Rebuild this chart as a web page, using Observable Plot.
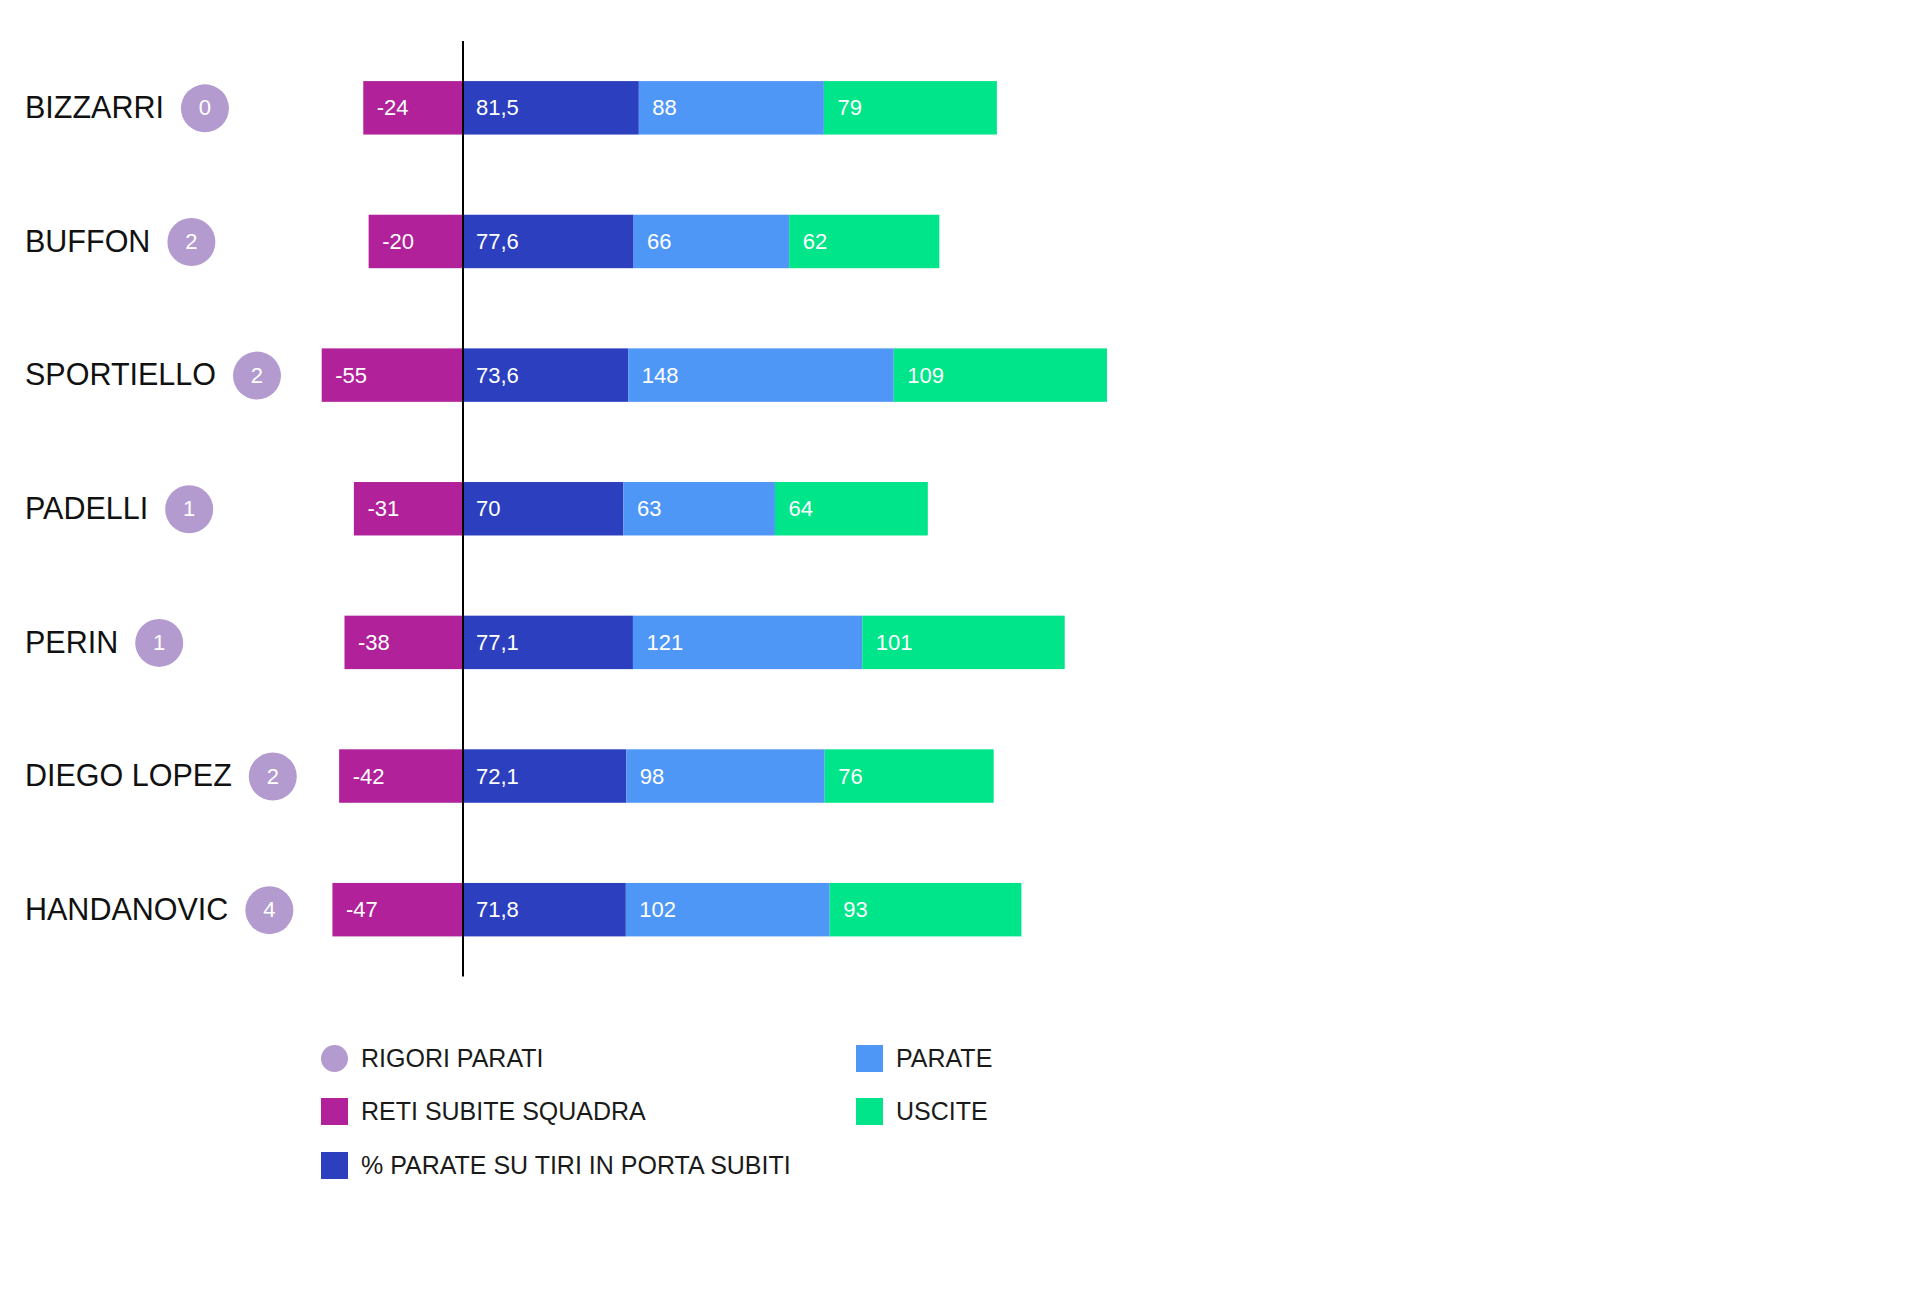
<!DOCTYPE html>
<html>
<head>
<meta charset="utf-8">
<script src="https://cdn.jsdelivr.net/npm/d3@7"></script>
<script src="https://cdn.jsdelivr.net/npm/@observablehq/plot@0.6"></script>
<style>
  html, body { margin: 0; padding: 0; background: #fff; }
  #wrap { position: relative; width: 1920px; height: 1310px; font-family: "Liberation Sans", Arial, sans-serif; }
  .lg { position: absolute; height: 30px; display: flex; align-items: center; font-size: 25px; color: #1a1a1a; white-space: nowrap; }
  .sw { display: inline-block; width: 27px; height: 27px; margin-right: 13px; }
  .sw.circle { border-radius: 50%; }
</style>
</head>
<body>
<div id="wrap"><div id="chart"></div></div>
<script>
// ---- data ----
const players = ["BIZZARRI", "BUFFON", "SPORTIELLO", "PADELLI", "PERIN", "DIEGO LOPEZ", "HANDANOVIC"];
const rigoriParati = [0, 2, 2, 1, 1, 2, 4];
const retiSubite = [-24, -20, -55, -31, -38, -42, -47];
const percParate = [81.5, 77.6, 73.6, 70, 77.1, 72.1, 71.8];
const parate = [88, 66, 148, 63, 121, 98, 102];
const uscite = [79, 62, 109, 64, 101, 76, 93];
const seriesNames = ["RETI SUBITE SQUADRA", "% PARATE SU TIRI IN PORTA SUBITI", "PARATE", "USCITE"];
const circleName = "RIGORI PARATI";
const seriesColors = ["#b0219a", "#2c3fbf", "#4f97f7", "#00e589"];
const circleColor = "#b49bcf";

// ---- layout constants ----
const PAD = 50; // fixed extra length of every segment (in value units), as in the original design
const W = 1920, H = 1000;
const FONT = "Liberation Sans, Arial, sans-serif";

// ---- build segments ----
const seriesValues = [retiSubite, percParate, parate, uscite];
const segments = [];
players.forEach((p, i) => {
  const r = retiSubite[i];
  segments.push({name: p, series: seriesNames[0], x1: -(Math.abs(r) + PAD), x2: 0, value: r});
  let acc = 0;
  for (let s = 1; s < 4; s++) {
    const v = seriesValues[s][i];
    const len = v + PAD;
    segments.push({name: p, series: seriesNames[s], x1: acc, x2: acc + len, value: v});
    acc += len;
  }
});
const fmt = v => String(v).replace(".", ",");

// measure names to place the circles right after them
const NAME_SIZE = 30.5;
const ctx = document.createElement("canvas").getContext("2d");
ctx.font = NAME_SIZE + 'px "Liberation Sans"';
const nameX = 24.5;
const circleMarks = [];
players.forEach((p, i) => {
  const w = ctx.measureText(p).width;
  const dx = nameX + w + 41;
  circleMarks.push(Plot.dot([p], {y: d => d, frameAnchor: "left", dx, r: 24, fill: circleColor}));
  circleMarks.push(Plot.text([p], {y: d => d, frameAnchor: "left", dx, text: () => String(rigoriParati[i]), fill: "white", fontSize: 22, textAnchor: "middle"}));
});

const chart = Plot.plot({
  width: W,
  height: H,
  marginLeft: 0,
  marginRight: 0,
  marginTop: 41,
  marginBottom: H - 976.5,
  style: {fontFamily: FONT, background: "white"},
  x: {domain: [-344.9, 1086.9], axis: null},
  y: {domain: players, paddingInner: 0.6, paddingOuter: 0.3, align: 0.5, round: false, axis: null},
  color: {domain: seriesNames, range: seriesColors},
  marks: [
    Plot.barX(segments, {x1: "x1", x2: "x2", y: "name", fill: "series"}),
    Plot.text(segments, {x: "x1", y: "name", text: d => fmt(d.value), textAnchor: "start", dx: 13, fill: "white", fontSize: 22}),
    Plot.ruleX([0], {stroke: "#000", strokeWidth: 2}),
    Plot.text(players, {y: d => d, text: d => d, frameAnchor: "left", dx: nameX, textAnchor: "start", fontSize: NAME_SIZE, fill: "#111"}),
    ...circleMarks
  ]
});
const wrap = document.getElementById("wrap");
document.getElementById("chart").appendChild(chart);

// ---- legend (HTML, below the SVG) ----
const legendItems = [
  {label: circleName, color: circleColor, circle: true, left: 321, top: 1058},
  {label: seriesNames[0], color: seriesColors[0], left: 321, top: 1111.5},
  {label: seriesNames[1], color: seriesColors[1], left: 321, top: 1165},
  {label: seriesNames[2], color: seriesColors[2], left: 856, top: 1058},
  {label: seriesNames[3], color: seriesColors[3], left: 856, top: 1111.5}
];
legendItems.forEach(it => {
  const d = document.createElement("div");
  d.className = "lg";
  d.style.left = it.left + "px";
  d.style.top = (it.top - 15) + "px";
  const sw = document.createElement("span");
  sw.className = "sw" + (it.circle ? " circle" : "");
  sw.style.background = it.color;
  d.appendChild(sw);
  d.appendChild(document.createTextNode(it.label));
  wrap.appendChild(d);
});
</script>
</body>
</html>
